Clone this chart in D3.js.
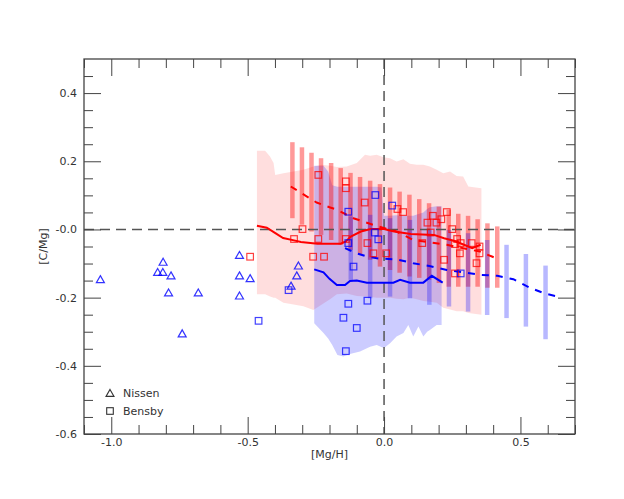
<!DOCTYPE html>
<html>
<head>
<meta charset="utf-8">
<script src="https://cdn.jsdelivr.net/npm/d3@7"></script>
<style>
  html, body { margin: 0; padding: 0; background: #fff; }
  svg { display: block; font-family: "DejaVu Sans", sans-serif; }
</style>
</head>
<body>
<svg id="chart" width="624" height="499"></svg>
<script>
// ---------------- data ----------------
const xTickValues = [-1.0, -0.5, 0.0, 0.5];
const xTickLabels = ["-1.0", "-0.5", "0.0", "0.5"];
const yTickValues = [0.4, 0.2, 0.0, -0.2, -0.4, -0.6];
const yTickLabels = ["0.4", "0.2", "-0.0", "-0.2", "-0.4", "-0.6"];

// Nissen (triangles)
const nissenX = [-1.04, -0.81, -0.83, -0.811, -0.781, -0.79, -0.681, -0.74, -0.53, -0.53, -0.53, -0.491, -0.314, -0.32, -0.341];
const nissenY = [-0.146, -0.095, -0.125, -0.125, -0.135, -0.185, -0.185, -0.305, -0.075, -0.135, -0.194, -0.143, -0.106, -0.135, -0.165];

// Bensby (squares), red population
const bensbyRedX = [-0.491, -0.330, -0.299, -0.260, -0.220, -0.241, -0.241, -0.140, -0.140, -0.071, -0.140, -0.061, -0.039, 0.008, 0.049, 0.070, 0.179, 0.230, 0.210, 0.192, 0.159, 0.171, 0.250, 0.140, 0.268, 0.260, 0.281, 0.278, 0.321, 0.350, 0.350, 0.220, 0.339, 0.260];
const bensbyRedY = [-0.080, -0.028, 0.001, -0.080, -0.080, -0.028, 0.160, 0.141, 0.121, 0.079, -0.028, -0.040, -0.070, -0.070, 0.060, 0.051, 0.040, 0.051, 0.030, 0.020, 0.020, -0.009, 0.001, -0.040, -0.028, -0.043, -0.040, -0.070, -0.040, -0.050, -0.070, -0.089, -0.099, -0.129];
// Bensby (squares), blue population
const bensbyBlueX = [-0.460, -0.350, -0.131, -0.131, -0.112, -0.032, -0.034, -0.021, -0.131, -0.061, -0.149, -0.100, -0.140, 0.030, 0.281];
const bensbyBlueY = [-0.268, -0.178, 0.052, -0.040, -0.109, 0.101, -0.009, -0.029, -0.218, -0.209, -0.259, -0.289, -0.357, 0.070, -0.129];

// pink shaded band
const pinkBandX = [-0.466, -0.436, -0.418, -0.405, -0.399, -0.369, -0.332, -0.296, -0.259, -0.228, -0.198, -0.173, -0.137, -0.100, -0.070, -0.051, -0.027, -0.002, 0.022, 0.046, 0.071, 0.095, 0.120, 0.144, 0.168, 0.193, 0.217, 0.242, 0.266, 0.290, 0.309, 0.357];
const pinkBandHi = [0.231, 0.231, 0.214, 0.195, 0.160, 0.165, 0.170, 0.175, 0.185, 0.190, 0.187, 0.183, 0.185, 0.195, 0.219, 0.216, 0.219, 0.212, 0.209, 0.199, 0.206, 0.193, 0.190, 0.190, 0.185, 0.175, 0.165, 0.170, 0.157, 0.155, 0.126, 0.121];
const pinkBandLo = [-0.190, -0.190, -0.197, -0.200, -0.200, -0.215, -0.220, -0.225, -0.236, -0.220, -0.205, -0.190, -0.188, -0.195, -0.197, -0.198, -0.200, -0.200, -0.200, -0.203, -0.205, -0.200, -0.205, -0.210, -0.212, -0.215, -0.230, -0.235, -0.240, -0.240, -0.245, -0.250];

// blue shaded band
const blueBandX = [-0.256, -0.222, -0.205, -0.190, -0.171, -0.149, -0.125, -0.088, -0.051, -0.027, -0.010, 0.000, 0.022, 0.046, 0.071, 0.089, 0.107, 0.126, 0.144, 0.158, 0.168, 0.193, 0.211];
const blueBandHi = [0.187, 0.187, 0.170, 0.130, 0.125, 0.125, 0.125, 0.125, 0.125, 0.125, 0.123, 0.040, 0.040, 0.042, 0.040, 0.040, 0.040, 0.045, 0.050, 0.060, 0.065, 0.068, 0.068];
const blueBandLo = [-0.275, -0.304, -0.320, -0.339, -0.368, -0.373, -0.365, -0.358, -0.344, -0.339, -0.345, -0.348, -0.334, -0.314, -0.304, -0.280, -0.314, -0.285, -0.314, -0.300, -0.295, -0.280, -0.280];

// red vertical bars
const redBarX = [-0.336, -0.301, -0.266, -0.231, -0.194, -0.159, -0.123, -0.088, -0.051, -0.015, 0.022, 0.057, 0.093, 0.129, 0.165, 0.201, 0.237, 0.272, 0.308, 0.343, 0.379, 0.415];
const redBarHi = [0.256, 0.241, 0.225, 0.209, 0.195, 0.180, 0.166, 0.154, 0.143, 0.133, 0.123, 0.111, 0.102, 0.089, 0.077, 0.067, 0.058, 0.046, 0.040, 0.030, 0.018, 0.009];
const redBarLo = [0.033, 0.014, -0.006, -0.016, -0.031, -0.045, -0.060, -0.072, -0.089, -0.109, -0.119, -0.127, -0.138, -0.142, -0.148, -0.157, -0.168, -0.168, -0.168, -0.168, -0.171, -0.171];

// blue vertical bars
const blueBarX = [-0.122, -0.051, 0.022, 0.095, 0.166, 0.238, 0.308, 0.378, 0.449, 0.520, 0.592];
const blueBarHi = [0.038, 0.043, 0.033, 0.028, 0.000, -0.001, -0.011, -0.031, -0.045, -0.072, -0.106];
const blueBarLo = [-0.148, -0.202, -0.197, -0.202, -0.221, -0.226, -0.241, -0.251, -0.260, -0.285, -0.322];

// lines
const redSolidX = [-0.466, -0.430, -0.400, -0.370, -0.330, -0.305, -0.244, -0.159, -0.140, -0.122, -0.085, -0.049, 0.000, 0.037, 0.098, 0.183, 0.220, 0.256, 0.293, 0.323, 0.354];
const redSolidY = [0.011, 0.005, -0.010, -0.025, -0.032, -0.037, -0.042, -0.042, -0.035, -0.021, -0.006, 0.001, 0.001, -0.006, -0.013, -0.016, -0.026, -0.033, -0.045, -0.055, -0.045];
const blueSolidX = [-0.256, -0.222, -0.200, -0.173, -0.143, -0.125, -0.100, -0.063, 0.000, 0.034, 0.059, 0.095, 0.144, 0.175, 0.215];
const blueSolidY = [-0.117, -0.126, -0.145, -0.163, -0.163, -0.151, -0.150, -0.156, -0.156, -0.156, -0.148, -0.156, -0.156, -0.136, -0.156];
const redDashX = [-0.342, -0.300, -0.247, -0.200, -0.173, -0.112, -0.039, 0.046, 0.107, 0.170, 0.230, 0.290, 0.352, 0.425];
const redDashY = [0.126, 0.105, 0.079, 0.065, 0.058, 0.033, 0.013, -0.006, -0.031, -0.038, -0.045, -0.055, -0.065, -0.089];
const blueDashX = [-0.143, -0.100, -0.060, -0.020, 0.046, 0.107, 0.170, 0.230, 0.300, 0.352, 0.415, 0.474, 0.535, 0.590, 0.637];
const blueDashY = [-0.055, -0.070, -0.080, -0.085, -0.088, -0.099, -0.108, -0.119, -0.127, -0.133, -0.136, -0.146, -0.171, -0.188, -0.197];

const legendLabels = ["Nissen", "Bensby"];

// ---------------- drawing ----------------
const svg = d3.select("#chart");
const L = 84, R = 575, T = 59, B = 434;
const x = d3.scaleLinear().domain([-1.1, 0.7]).range([L, R]);
const y = d3.scaleLinear().domain([-0.6, 0.5]).range([B, T]);

svg.append("defs").append("clipPath").attr("id", "clip")
  .append("rect").attr("x", L).attr("y", T).attr("width", R - L).attr("height", B - T);
const plot = svg.append("g").attr("clip-path", "url(#clip)");

function band(xs, hi, lo) {
  return d3.area().x((d, i) => x(xs[i])).y0((d, i) => y(lo[i])).y1((d, i) => y(hi[i]))(xs);
}
plot.append("path").attr("d", band(pinkBandX, pinkBandHi, pinkBandLo))
  .attr("fill", "rgba(255,0,0,0.13)");
plot.append("path").attr("d", band(blueBandX, blueBandHi, blueBandLo))
  .attr("fill", "rgba(0,0,255,0.2)");

// bars
plot.selectAll(".rbar").data(redBarX).enter().append("line")
  .attr("x1", d => x(d)).attr("x2", d => x(d))
  .attr("y1", (d, i) => y(redBarHi[i])).attr("y2", (d, i) => y(redBarLo[i]))
  .attr("stroke", "rgba(255,0,0,0.4)").attr("stroke-width", 4.5);
plot.selectAll(".bbar").data(blueBarX).enter().append("line")
  .attr("x1", d => x(d)).attr("x2", d => x(d))
  .attr("y1", (d, i) => y(blueBarHi[i])).attr("y2", (d, i) => y(blueBarLo[i]))
  .attr("stroke", "rgba(0,0,255,0.28)").attr("stroke-width", 4.5);

// reference dashed lines
plot.append("line").attr("x1", L).attr("x2", R).attr("y1", y(0)).attr("y2", y(0))
  .attr("stroke", "#555").attr("stroke-width", 1.5).attr("stroke-dasharray", "10,6");
plot.append("line").attr("x1", x(0)).attr("x2", x(0)).attr("y1", T).attr("y2", B)
  .attr("stroke", "#555").attr("stroke-width", 1.5).attr("stroke-dasharray", "10,6");

function line(xs, ys) {
  return d3.line().x((d, i) => x(xs[i])).y((d, i) => y(ys[i]))(xs);
}
plot.append("path").attr("d", line(redSolidX, redSolidY)).attr("fill", "none")
  .attr("stroke", "#ff0000").attr("stroke-width", 2);
plot.append("path").attr("d", line(blueSolidX, blueSolidY)).attr("fill", "none")
  .attr("stroke", "#0000ff").attr("stroke-width", 2);
plot.append("path").attr("d", line(redDashX, redDashY)).attr("fill", "none")
  .attr("stroke", "#ff0000").attr("stroke-width", 2).attr("stroke-dasharray", "7,7");
plot.append("path").attr("d", line(blueDashX, blueDashY)).attr("fill", "none")
  .attr("stroke", "#0000ff").attr("stroke-width", 2).attr("stroke-dasharray", "7,7");

// markers
const triPath = "M0,-3.6 L4,3.4 L-4,3.4 Z";
plot.selectAll(".nis").data(nissenX).enter().append("path")
  .attr("d", triPath)
  .attr("transform", (d, i) => `translate(${x(d)},${y(nissenY[i])})`)
  .attr("fill", "none").attr("stroke", "rgba(0,0,255,0.8)").attr("stroke-width", 1.2);
const sq = 6.6;
plot.selectAll(".bred").data(bensbyRedX).enter().append("rect")
  .attr("x", d => x(d) - sq / 2).attr("y", (d, i) => y(bensbyRedY[i]) - sq / 2)
  .attr("width", sq).attr("height", sq)
  .attr("fill", "none").attr("stroke", "rgba(255,0,0,0.75)").attr("stroke-width", 1.2);
plot.selectAll(".bblue").data(bensbyBlueX).enter().append("rect")
  .attr("x", d => x(d) - sq / 2).attr("y", (d, i) => y(bensbyBlueY[i]) - sq / 2)
  .attr("width", sq).attr("height", sq)
  .attr("fill", "none").attr("stroke", "rgba(0,0,255,0.75)").attr("stroke-width", 1.2);

// axes
const tickColor = "#444";
const minorX = d3.range(-1.1, 0.7001, 0.1).map(v => +v.toFixed(2)).filter(v => !xTickValues.some(t => Math.abs(t - v) < 1e-6));
const minorY = d3.range(-0.6, 0.5001, 0.05).map(v => +v.toFixed(2)).filter(v => !yTickValues.some(t => Math.abs(t - v) < 1e-6) && v > -0.6 && v < 0.5);

function styleAxis(g) {
  g.select(".domain").remove();
  g.selectAll(".tick line").attr("stroke", tickColor).attr("stroke-width", 1);
  g.selectAll(".tick text").attr("fill", "#333").style("font-size", "11px")
    .style("font-family", "'DejaVu Sans', sans-serif");
}
// bottom
svg.append("g").attr("transform", `translate(0,${B})`)
  .call(d3.axisBottom(x).tickValues(xTickValues).tickFormat((d, i) => xTickLabels[i]).tickSizeInner(-17).tickSizeOuter(0).tickPadding(4))
  .call(styleAxis);
svg.append("g").attr("transform", `translate(0,${B})`)
  .call(d3.axisBottom(x).tickValues(minorX).tickFormat("").tickSizeInner(-9).tickSizeOuter(0))
  .call(styleAxis);
// top
svg.append("g").attr("transform", `translate(0,${T})`)
  .call(d3.axisTop(x).tickValues(xTickValues).tickFormat("").tickSizeInner(-17).tickSizeOuter(0))
  .call(styleAxis);
svg.append("g").attr("transform", `translate(0,${T})`)
  .call(d3.axisTop(x).tickValues(minorX).tickFormat("").tickSizeInner(-9).tickSizeOuter(0))
  .call(styleAxis);
// left
svg.append("g").attr("transform", `translate(${L},0)`)
  .call(d3.axisLeft(y).tickValues(yTickValues).tickFormat((d, i) => yTickLabels[i]).tickSizeInner(-17).tickSizeOuter(0).tickPadding(7))
  .call(styleAxis);
svg.append("g").attr("transform", `translate(${L},0)`)
  .call(d3.axisLeft(y).tickValues(minorY).tickFormat("").tickSizeInner(-9).tickSizeOuter(0))
  .call(styleAxis);
// right
svg.append("g").attr("transform", `translate(${R},0)`)
  .call(d3.axisRight(y).tickValues(yTickValues).tickFormat("").tickSizeInner(-17).tickSizeOuter(0))
  .call(styleAxis);
svg.append("g").attr("transform", `translate(${R},0)`)
  .call(d3.axisRight(y).tickValues(minorY).tickFormat("").tickSizeInner(-9).tickSizeOuter(0))
  .call(styleAxis);

// frame
svg.append("rect").attr("x", L).attr("y", T).attr("width", R - L).attr("height", B - T)
  .attr("fill", "none").attr("stroke", "#444").attr("stroke-width", 1.3);

// axis labels
svg.append("text").attr("x", (L + R) / 2).attr("y", 458).attr("text-anchor", "middle")
  .attr("fill", "#333").style("font-size", "11px").text("[Mg/H]");
svg.append("text").attr("transform", `translate(47,${(T + B) / 2}) rotate(-90)`)
  .attr("text-anchor", "middle").attr("fill", "#333").style("font-size", "11px").text("[C/Mg]");

// legend
const leg = svg.append("g");
leg.append("path").attr("d", triPath).attr("transform", "translate(110,393)")
  .attr("fill", "none").attr("stroke", "#333").attr("stroke-width", 1.1);
leg.append("rect").attr("x", 110 - sq / 2).attr("y", 411 - sq / 2).attr("width", sq).attr("height", sq)
  .attr("fill", "white").attr("stroke", "#333").attr("stroke-width", 1.1);
leg.selectAll("text").data(legendLabels).enter().append("text")
  .attr("x", 123).attr("y", (d, i) => 397 + i * 18)
  .attr("fill", "#333").style("font-size", "11px").text(d => d);
</script>
</body>
</html>
